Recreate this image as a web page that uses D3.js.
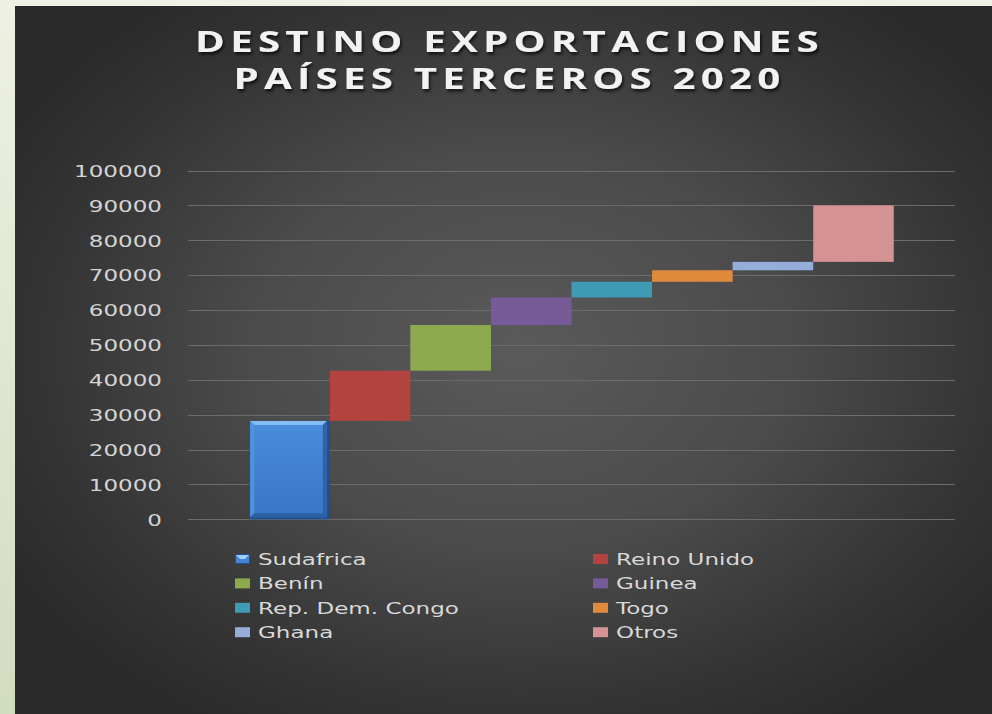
<!DOCTYPE html>
<html><head><meta charset="utf-8">
<script src="https://cdn.jsdelivr.net/npm/d3@7"></script>
<style>html,body{margin:0;padding:0;background:#eef1e4;} svg{display:block}</style>
</head><body><svg id="chart" width="992" height="714"></svg>
<script>
// ---- data ----
const categories = ["Sudafrica","Reino Unido","Benín","Guinea","Rep. Dem. Congo","Togo","Ghana","Otros"];
const values = [28200,14400,13100,7900,4500,3300,2400,16200];
const colors = ["#4384d6","#b3433f","#8dab4e","#775a98","#3f9ab3","#e08a3b","#94add9","#d49293"];
const yTicks = [0,10000,20000,30000,40000,50000,60000,70000,80000,90000,100000];
const titleLines = ["DESTINO EXPORTACIONES","PAÍSES TERCEROS 2020"];

// ---- layout ----
const W = 992, H = 714;
const panel = {x:15, y:6};
const plot = {left:188, right:955, top:170.5, bottom:519.3};
const SX = 1.44; // horizontal stretch of the text in the reference

const svg = d3.select("#chart");
const defs = svg.append("defs");

const pageGrad = defs.append("linearGradient").attr("id","pageG").attr("x1",0).attr("y1",0).attr("x2",0).attr("y2",1);
pageGrad.append("stop").attr("offset","0").attr("stop-color","#eef1e3");
pageGrad.append("stop").attr("offset","1").attr("stop-color","#d2dcbf");

const bg = defs.append("radialGradient").attr("id","bgG").attr("gradientUnits","userSpaceOnUse")
  .attr("cx",520).attr("cy",350).attr("r",520)
  .attr("gradientTransform","translate(520,350) scale(1.15,0.85) translate(-520,-350)");
bg.append("stop").attr("offset","0").attr("stop-color","#5a5a5a");
bg.append("stop").attr("offset","0.45").attr("stop-color","#4b4b4b");
bg.append("stop").attr("offset","0.8").attr("stop-color","#343434");
bg.append("stop").attr("offset","1").attr("stop-color","#2a2a2a");

const blueG = defs.append("linearGradient").attr("id","blueG").attr("x1",0).attr("y1",0).attr("x2",0).attr("y2",1);
blueG.append("stop").attr("offset","0").attr("stop-color","#4a8ddc");
blueG.append("stop").attr("offset","1").attr("stop-color","#3a76c6");

const sh = defs.append("filter").attr("id","tshadow").attr("x","-10%").attr("y","-30%").attr("width","120%").attr("height","160%");
sh.append("feDropShadow").attr("dx",1.5).attr("dy",2.5).attr("stdDeviation",1.5)
  .attr("flood-color","#000").attr("flood-opacity",0.7);

svg.append("rect").attr("width",W).attr("height",H).attr("fill","url(#pageG)");
svg.append("rect").attr("x",panel.x).attr("y",panel.y).attr("width",W-panel.x).attr("height",H-panel.y).attr("fill","url(#bgG)");

// ---- title ----
const title = svg.append("g").attr("filter","url(#tshadow)");
titleLines.forEach((t,i)=>{
  title.append("text")
    .attr("transform",`translate(509.5,${52 + i*37}) scale(${SX},1)`)
    .attr("text-anchor","middle")
    .attr("font-family","'Open Sans', 'DejaVu Sans', sans-serif")
    .attr("font-weight","bold").attr("font-size",28)
    .attr("letter-spacing",3.6)
    .attr("fill","#f2f2f2")
    .text(t);
});

// ---- scales ----
const y = d3.scaleLinear().domain([0,100000]).range([plot.bottom, plot.top]);
const x = d3.scaleBand().domain(categories).range([plot.left, plot.right]).paddingInner(0).paddingOuter(0.76);

// gridlines
svg.append("g").selectAll("line").data(yTicks).join("line")
  .attr("x1",plot.left).attr("x2",plot.right)
  .attr("y1",d=>Math.round(y(d))+0.5).attr("y2",d=>Math.round(y(d))+0.5)
  .attr("stroke","#6c6c6c").attr("stroke-width",1);

// y axis labels
const yAxis = svg.append("g").attr("transform",`translate(${plot.left},0)`)
  .call(d3.axisLeft(y).tickValues(yTicks).tickSize(0).tickFormat(d3.format("d")));
yAxis.select(".domain").remove();
yAxis.selectAll("text")
  .attr("x",null).attr("dy","0.36em")
  .attr("transform",`translate(-26,0) scale(${SX},1)`)
  .attr("font-family","'DejaVu Sans', sans-serif").attr("font-size",16)
  .attr("fill","#d4d4d4").attr("text-anchor","end");

// ---- waterfall bars ----
const ends = d3.cumsum(values);
const bars = categories.map((c,i)=>({c, v:values[i], y0: ends[i]-values[i], y1: ends[i], color: colors[i], i}));

const barG = svg.append("g");
bars.forEach(b=>{
  const x0 = x(b.c), w = x.bandwidth();
  const top = y(b.y1), bot = y(b.y0);
  if (b.i === 0) {
    // bevelled first bar
    barG.append("rect").attr("x",x0).attr("y",top).attr("width",w).attr("height",bot-top).attr("fill","#1f4f8f");
    barG.append("rect").attr("x",x0+1).attr("y",top).attr("width",w-4).attr("height",bot-top-2).attr("fill","url(#blueG)");
    const e = 4;
    barG.append("path").attr("d",`M${x0+1},${top}L${x0+w-3},${top}L${x0+w-3-e},${top+e}L${x0+1+e},${top+e}Z`).attr("fill","#86bdf3");
    barG.append("path").attr("d",`M${x0+1},${top}L${x0+1+e},${top+e}L${x0+1+e},${bot-2-e}L${x0+1},${bot-2}Z`).attr("fill","#4f92df");
    barG.append("path").attr("d",`M${x0+w-3},${top}L${x0+w-3-e},${top+e}L${x0+w-3-e},${bot-2-e}L${x0+w-3},${bot-2}Z`).attr("fill","#2f63a8");
    barG.append("path").attr("d",`M${x0+1},${bot-2}L${x0+1+e},${bot-2-e}L${x0+w-3-e},${bot-2-e}L${x0+w-3},${bot-2}Z`).attr("fill","#2d60a3");
  } else {
    barG.append("rect").attr("x",x0).attr("y",top).attr("width",w).attr("height",bot-top).attr("fill",b.color);
  }
});

// ---- legend ----
const legCols = [235, 593];
const legRow0 = 559, legStep = 24.4;
const leg = svg.append("g");
bars.forEach(b=>{
  const cx = legCols[b.i % 2], cy = legRow0 + Math.floor(b.i/2)*legStep;
  if (b.i === 0) {
    leg.append("rect").attr("x",cx).attr("y",cy-5).attr("width",15).attr("height",10).attr("fill","#1f4f8f");
    leg.append("rect").attr("x",cx+1).attr("y",cy-4).attr("width",13).attr("height",8).attr("fill","#4384d6");
    leg.append("path").attr("d",`M${cx+1},${cy-4}L${cx+14},${cy-4}L${cx+10},${cy}L${cx+5},${cy}Z`).attr("fill","#9fcdf7");
  } else {
    leg.append("rect").attr("x",cx).attr("y",cy-5).attr("width",15).attr("height",10).attr("fill",b.color);
  }
  leg.append("text")
    .attr("transform",`translate(${cx+23},${cy+6}) scale(${SX},1)`)
    .attr("font-family","'DejaVu Sans', sans-serif").attr("font-size",16)
    .attr("fill","#d9d9d9")
    .text(b.c);
});
</script>
</body></html>
